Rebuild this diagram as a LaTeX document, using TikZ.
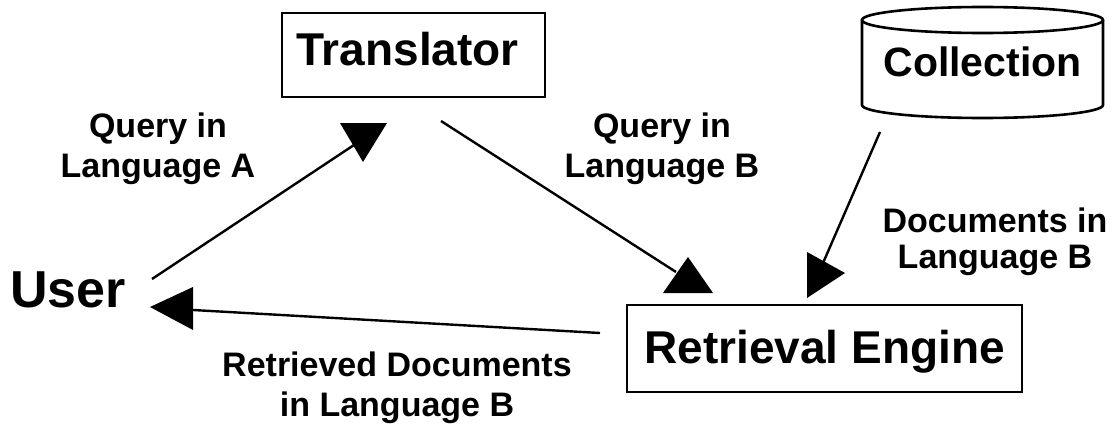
\documentclass[tikz,border=0pt]{standalone}
\usepackage{fontspec}
\setmainfont{Liberation Sans}
\begin{document}
\begin{tikzpicture}[x=1pt,y=-1pt,
  box/.style={draw, line width=2.6pt, inner sep=0pt, font=\bfseries\fontsize{46}{54}\selectfont},
  conn/.style={line width=2.4pt},
  head/.style={fill=black},
  outline/.style={line width=2.6pt},
  lbl/.style={align=center, inner sep=0pt, anchor=north, font=\bfseries\fontsize{34}{40}\selectfont}]
\useasboundingbox (0,0) rectangle (1118,428);
% nodes
\node[box, minimum width=263pt, minimum height=84pt, text height=34pt, text depth=14pt] (trans) at (413.5,55) {Translator\hspace*{12pt}};
\node[box, minimum width=395pt, minimum height=87pt, text height=34pt, text depth=5pt] (engine) at (824.5,348.5) {Retrieval Engine};
\node[inner sep=0pt, minimum width=241pt, minimum height=111pt, text height=30pt, text depth=1pt, font=\bfseries\fontsize{41}{48}\selectfont] (coll) at (982.5,62.5) {Collection};
\draw[outline] (982.5,20) ellipse [x radius=120.5, y radius=13];
\draw[outline] (862,20) -- (862,105) arc[start angle=180, end angle=0, x radius=120.5, y radius=13] -- (1103,20);
\node[anchor=base west, inner sep=0pt, font=\bfseries\fontsize{52}{60}\selectfont] (user) at (10,307) {User};
% connector ends
\coordinate (ua) at (152,279);
\coordinate (ta) at (357,143);
\coordinate (tb) at (441,121);
\coordinate (eb) at (676,272);
\coordinate (cb) at (880,132);
\coordinate (ec) at (823,263);
\coordinate (eu) at (600,333);
\coordinate (uu) at (193,310);
% connectors
\draw[conn] (ua) -- (ta);
\fill[head] (340,123) -- (387,123) -- (363,162) -- cycle;
\draw[conn] (tb) -- (eb);
\fill[head] (663,293) -- (713,293) -- (688,257) -- cycle;
\draw[conn] (cb) -- (ec);
\fill[head] (807,252) -- (807,298) -- (845,273) -- cycle;
\draw[conn] (eu) -- (uu);
\fill[head] (193,287) -- (193,330) -- (150,307) -- cycle;
% labels
\node[lbl] (qa) at (158,113) {Query in\\Language A};
\node[lbl] (qb) at (662,113) {Query in\\Language B};
\node[lbl, font=\bfseries\fontsize{34}{36}\selectfont] (docs) at (995,208) {Documents in\\Language B};
\node[lbl] (ret) at (397,352) {Retrieved Documents\\in Language B};
\end{tikzpicture}
\end{document}
